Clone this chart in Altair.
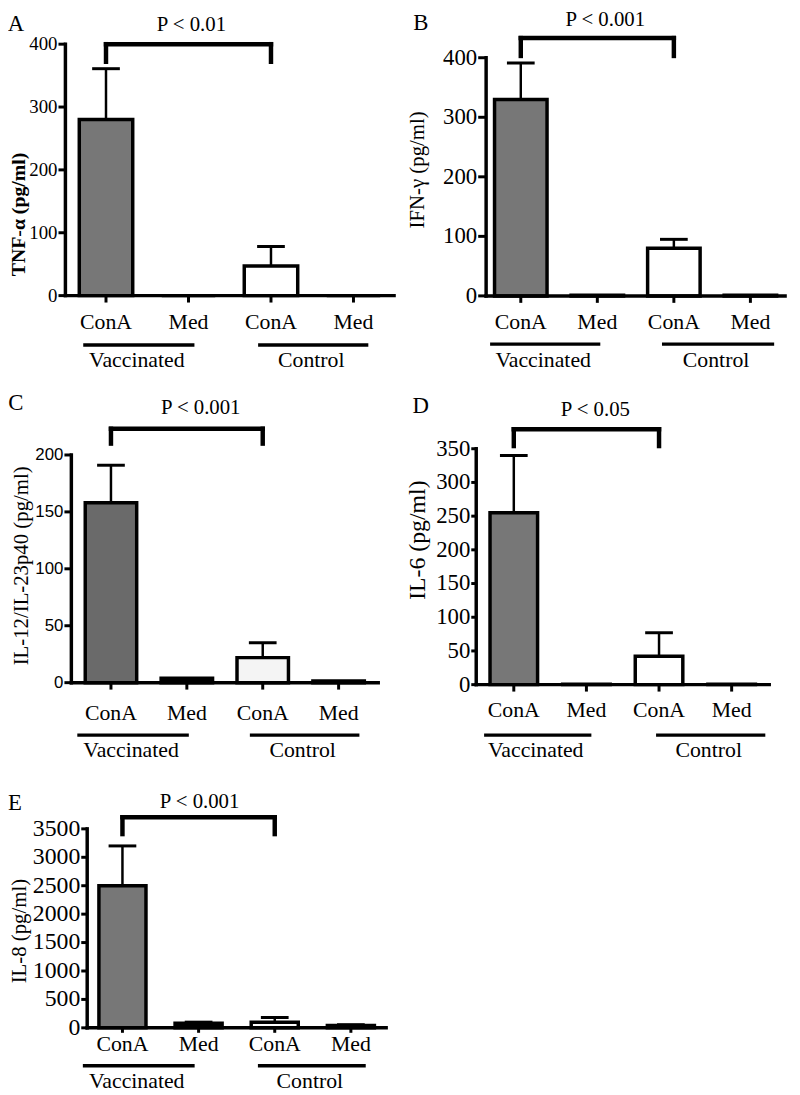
import altair as alt
import pandas as pd

# ---------------- data ----------------
CATS = ["Vaccinated|ConA", "Vaccinated|Med", "Control|ConA", "Control|Med"]
CAT_LABELS = ["ConA", "Med", "ConA", "Med"]
GROUPS = ["Vaccinated", "Control"]

A_mean = [280, 0, 47, 0]
A_upper = [361, 0, 78, 0]
B_mean = [330, 1, 80, 1]
B_upper = [391, 1, 95, 1]
C_mean = [158, 4, 22, 1.5]
C_upper = [191, 4, 35, 1.5]
D_mean = [255, 0.5, 42, 0.5]
D_upper = [340, 0.5, 77, 0.5]
E_mean = [2500, 80, 100, 40]
E_upper = [3200, 100, 180, 55]

A_ticks = [0, 100, 200, 300, 400]
B_ticks = [0, 100, 200, 300, 400]
C_ticks = [0, 50, 100, 150, 200]
D_ticks = [0, 50, 100, 150, 200, 250, 300, 350]
E_ticks = [0, 500, 1000, 1500, 2000, 2500, 3000, 3500]

P_LABELS = ["P < 0.01", "P < 0.001", "P < 0.001", "P < 0.05", "P < 0.001"]
Y_TITLES = ["TNF-α (pg/ml)", "IFN-γ (pg/ml)", "IL-12/IL-23p40 (pg/ml)", "IL-6 (pg/ml)", "IL-8 (pg/ml)"]
LETTERS = ["A", "B", "C", "D", "E"]

# bracket level / leg end / p-label level, in data units of each panel
BRACKET = [400, 433, 223, 379, 3704]
LEG = [372, 403, 210, 354, 3408]
P_Y = [430, 463, 241, 408, 3965]

# ---------------- layout (page pixels) ----------------
W, H = 792, 1087
SERIF = "Liberation Serif"
SANS = "Liberation Sans"
TEX = "#777777"

LAYOUT = [
    dict(xa=66, x1=398, pi=0.352, po=0.168, y0=293, yt=39, ymax=400, ticks=A_ticks,
         tfont=SERIF, tsize=19, tpad=1, tsz=7, ttfs=20, ttw="bold", tcx=19, tcy=211,
         xpad=10, xts=7, ul=343, gl=358, pdx=3, lx=16, ly=19,
         uoff=[(-23, 6), (-13, 15)], fills=[TEX, "black", "white", "black"],
         mean=A_mean, upper=A_upper),
    dict(xa=491, x1=793, pi=0.314, po=0.11, y0=293.3, yt=52.7, ymax=400, ticks=B_ticks,
         tfont=SERIF, tsize=23, tpad=1, tsz=8, ttfs=21, ttw="normal", tcx=422, tcy=166,
         xpad=9, xts=7, ul=342, gl=358, pdx=8, lx=425, ly=18,
         uoff=[(-31, 3), (-12, 24)], fills=[TEX, "black", "white", "black"],
         mean=B_mean, upper=B_upper),
    dict(xa=72, x1=382, pi=0.322, po=0.183, y0=684, yt=454, ymax=200, ticks=C_ticks,
         tfont=SANS, tsize=17, tpad=1, tsz=7, ttfs=21, ttw="normal", tcx=22, tcy=566,
         xpad=14, xts=7, ul=737, gl=752, pdx=14, lx=16, ly=402,
         uoff=[(-34, 2), (-13, 21)], fills=["#6a6a6a", "black", "#f4f4f4", "black"],
         mean=C_mean, upper=C_upper),
    dict(xa=481, x1=777, pi=0.345, po=0.19, y0=686, yt=447.7, ymax=350, ticks=D_ticks,
         tfont=SERIF, tsize=23, tpad=1, tsz=5, ttfs=24, ttw="normal", tcx=422, tcy=540,
         xpad=9, xts=7, ul=737, gl=752, pdx=9, lx=425, ly=405,
         uoff=[(-30, 5), (-3, 34)], fills=[TEX, "black", "white", "black"],
         mean=D_mean, upper=D_upper),
    dict(xa=88, x1=390, pi=0.382, po=0.154, y0=1032.7, yt=831.7, ymax=3500, ticks=E_ticks,
         tfont=SERIF, tsize=24, tpad=1, tsz=6, ttfs=21, ttw="normal", tcx=20, tcy=935,
         xpad=1, xts=5, ul=1071, gl=1086, pdx=1, lx=15, ly=806,
         uoff=[(-40, -4), (-17, 15)], fills=[TEX, "black", "white", "black"],
         mean=E_mean, upper=E_upper),
]


def panel(i):
    L = LAYOUT[i]
    xs = alt.Scale(domain=CATS, range=[L["xa"] - 8, L["x1"] - 8],
                   paddingInner=L["pi"], paddingOuter=L["po"])
    ys = alt.Scale(domain=[0, L["ymax"]], range=[L["y0"] - 8, L["yt"] - 8], nice=False)
    step = (L["x1"] - L["xa"]) / (4 - L["pi"] + 2 * L["po"])
    xa = L["xa"] - 8
    y0 = L["y0"] - 8

    X = lambda f="cat": alt.X(f"{f}:N", scale=xs, axis=None)
    Y = lambda f: alt.Y(f"{f}:Q", scale=ys, axis=None)

    df = pd.DataFrame({"cat": CATS, "lab": CAT_LABELS, "mean": L["mean"],
                       "upper": L["upper"], "fill": L["fills"]})
    base = alt.Chart(df)

    # ---- y axis (drawn through the y scale) ----
    tick_df = pd.DataFrame({"v": L["ticks"]})
    ydom = alt.Chart(pd.DataFrame({"a": [0], "b": [L["ymax"]]})).mark_rule(
        color="black", strokeWidth=3.5, strokeCap="square").encode(
        x=alt.value(xa), y=Y("a"), y2="b:Q")
    yticks = alt.Chart(tick_df).mark_rule(color="black", strokeWidth=3).encode(
        x=alt.value(xa - L["tsz"]), x2=alt.value(xa), y=Y("v"))
    ylabels = alt.Chart(tick_df).mark_text(
        font=L["tfont"], fontSize=L["tsize"], color="black", align="right",
        baseline="middle").encode(
        x=alt.value(xa - L["tsz"] - L["tpad"]), y=Y("v"), text=alt.Text("v:Q", format="d"))
    ytitle = alt.Chart(pd.DataFrame({"t": [Y_TITLES[i]]})).mark_text(
        font=SERIF, fontSize=L["ttfs"], fontWeight=L["ttw"], color="black", angle=270,
        align="center", baseline="middle").encode(
        x=alt.value(L["tcx"] - 8), y=alt.value(L["tcy"] - 8), text="t:N")

    # ---- x axis (drawn through the x scale) ----
    xdom = alt.Chart(pd.DataFrame({"a": [0]})).mark_rule(
        color="black", strokeWidth=3.5, strokeCap="square").encode(
        x=alt.value(xa), x2=alt.value(L["x1"] - 8), y=Y("a"))
    xticks = base.mark_rule(color="black", strokeWidth=3).encode(
        x=X(), y=alt.value(y0), y2=alt.value(y0 + L["xts"]))
    xlabels = base.mark_text(font=SERIF, fontSize=22, color="black", align="center",
                             baseline="top").encode(
        x=X(), y=alt.value(y0 + L["xts"] + L["xpad"]), text="lab:N")

    # ---- bars and error bars ----
    bars = base.mark_bar(stroke="black", strokeWidth=3.5).encode(
        x=X(), y=Y("mean"), fill=alt.Fill("fill:N", scale=None))
    errs = base.transform_filter("datum.upper > datum.mean")
    err = errs.mark_rule(color="black", strokeWidth=2.5).encode(
        x=X(), y=Y("mean"), y2="upper:Q")
    cap = errs.mark_tick(color="black", size=28, thickness=3, opacity=1).encode(
        x=X(), y=Y("upper"))

    # ---- significance bracket ----
    br_df = pd.DataFrame({"c1": [CATS[0]], "c2": [CATS[2]], "y": [BRACKET[i]]})
    bracket = alt.Chart(br_df).mark_rule(color="black", strokeWidth=4.5, strokeCap="square").encode(
        x=X("c1"), x2="c2:N", y=Y("y"))
    leg_df = pd.DataFrame({"cat": [CATS[0], CATS[2]], "y": [BRACKET[i]] * 2, "y2": [LEG[i]] * 2})
    legs = alt.Chart(leg_df).mark_rule(color="black", strokeWidth=4.5, strokeCap="square").encode(
        x=X(), y=Y("y"), y2="y2:Q")
    p_df = pd.DataFrame({"cat": [CATS[1]], "y": [P_Y[i]], "t": [P_LABELS[i]]})
    ptext = alt.Chart(p_df).mark_text(font=SERIF, fontSize=21, color="black", dx=L["pdx"],
                                      baseline="middle").encode(
        x=X(), y=Y("y"), text="t:N")

    layers = [ydom, yticks, ylabels, ytitle, xticks, xlabels, bars, err, cap, xdom,
              bracket, legs, ptext]

    # ---- group underlines and names ----
    for g, name in enumerate(GROUPS):
        gdf = pd.DataFrame({"c1": [CATS[2 * g]], "c2": [CATS[2 * g + 1]], "g": [name]})
        d1, d2 = L["uoff"][g]
        ul = alt.Chart(gdf).mark_rule(color="black", strokeWidth=3.5, xOffset=d1, x2Offset=d2).encode(
            x=X("c1"), x2="c2:N", y=alt.value(L["ul"] - 8))
        gl = alt.Chart(gdf).mark_text(font=SERIF, fontSize=22, color="black", baseline="middle",
                                      dx=step / 2 + (d1 + d2) / 2 - 2).encode(
            x=X("c1"), y=alt.value(L["gl"] - 8), text="g:N")
        layers += [ul, gl]

    let_df = pd.DataFrame({"t": [LETTERS[i]]})
    letter = alt.Chart(let_df).mark_text(font=SERIF, fontSize=23, color="black",
                                         baseline="middle", align="center").encode(
        x=alt.value(L["lx"] - 8), y=alt.value(L["ly"] - 8), text="t:N")
    layers.append(letter)
    return alt.layer(*layers)


chart = alt.layer(*[panel(i) for i in range(5)]).resolve_scale(
    x="independent", y="independent"
).properties(
    width=W, height=H, autosize=alt.AutoSizeParams(type="none"), padding=0,
    background="white",
).configure_view(stroke=None)

chart.save("out.html", embed_options={"renderer": "svg", "actions": False})
